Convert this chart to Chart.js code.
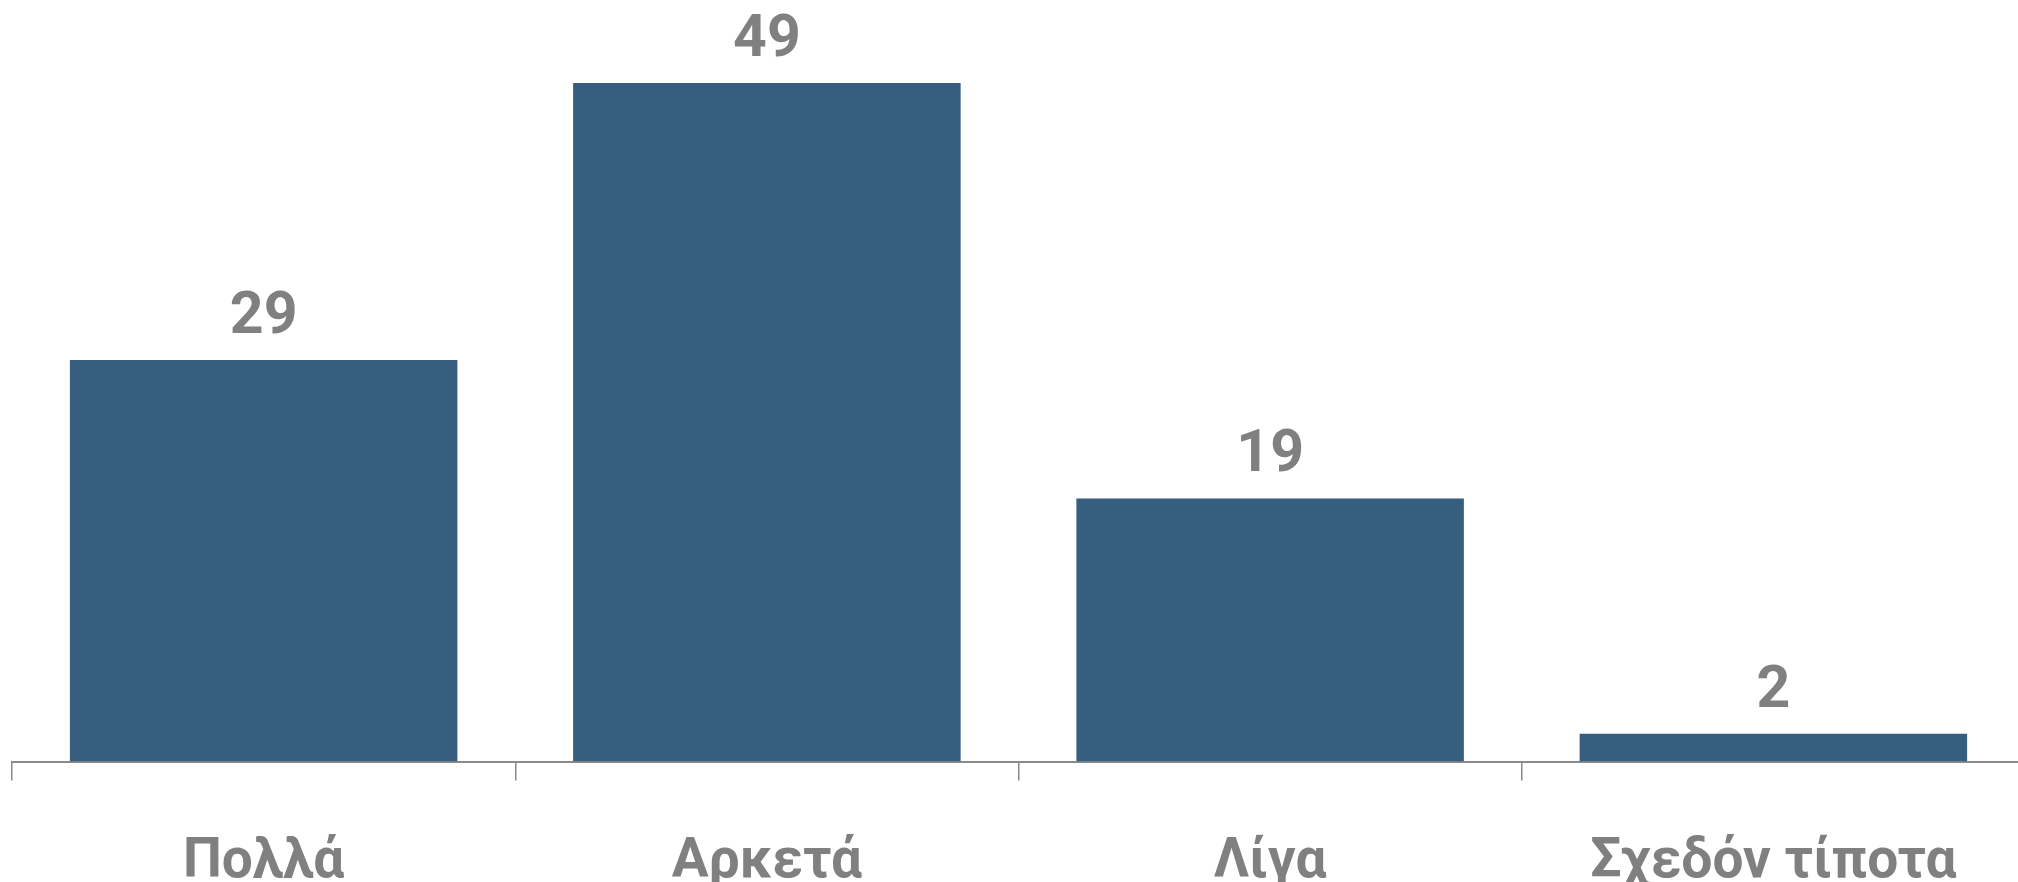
<!DOCTYPE html>
<html>
<head>
<meta charset="utf-8">
<script src="https://cdn.jsdelivr.net/npm/chart.js@4/dist/chart.umd.min.js"></script>
<style>
  html, body { margin: 0; padding: 0; background: #fff; overflow: hidden; }
  #wrap { position: absolute; left: 0; top: 0; width: 2025px; height: 900px; }
</style>
</head>
<body>
<div id="wrap"><canvas id="chart" width="2025" height="900"></canvas></div>
<script>
// Chart data
const categories = ["Πολλά", "Αρκετά", "Λίγα", "Σχεδόν τίποτα"];
const values = [29, 49, 19, 2];

const barColor = "#375e7f";
const textGrey = "#808080";
const axisGrey = "#8a8a8a";
const fontFamily = 'Roboto, "Noto Sans", sans-serif';

// Draws the number above each bar
const valueLabels = {
  id: "valueLabels",
  afterDatasetsDraw(chart) {
    const ctx = chart.ctx;
    const meta = chart.getDatasetMeta(0);
    ctx.save();
    ctx.font = "bold 59px " + fontFamily;
    ctx.fillStyle = textGrey;
    ctx.textAlign = "center";
    ctx.textBaseline = "alphabetic";
    meta.data.forEach((bar, i) => {
      ctx.fillText(String(values[i]), bar.x, bar.y - 27);
    });
    ctx.restore();
  },
};

new Chart(document.getElementById("chart"), {
  type: "bar",
  data: {
    labels: categories,
    datasets: [
      {
        data: values,
        backgroundColor: barColor,
        borderWidth: 0,
        categoryPercentage: 1,
        barPercentage: 0.77,
      },
    ],
  },
  options: {
    responsive: false,
    animation: false,
    devicePixelRatio: 1,
    layout: { padding: { left: 12, right: 0, top: 0, bottom: 0 } },
    plugins: {
      legend: { display: false },
      tooltip: { enabled: false },
    },
    scales: {
      y: { display: false, min: 0, max: 55 },
      x: {
        afterFit: (scale) => {
          scale.height = 138.5;
        },
        grid: {
          offset: true,
          drawOnChartArea: false,
          drawTicks: true,
          tickLength: 19,
          color: axisGrey,
          lineWidth: 1.5,
        },
        border: { display: true, color: axisGrey, width: 2 },
        ticks: {
          color: textGrey,
          padding: 50,
          font: { family: fontFamily, size: 55, weight: "bold" },
          maxRotation: 0,
          autoSkip: false,
        },
      },
    },
  },
  plugins: [valueLabels],
});
</script>
</body>
</html>
